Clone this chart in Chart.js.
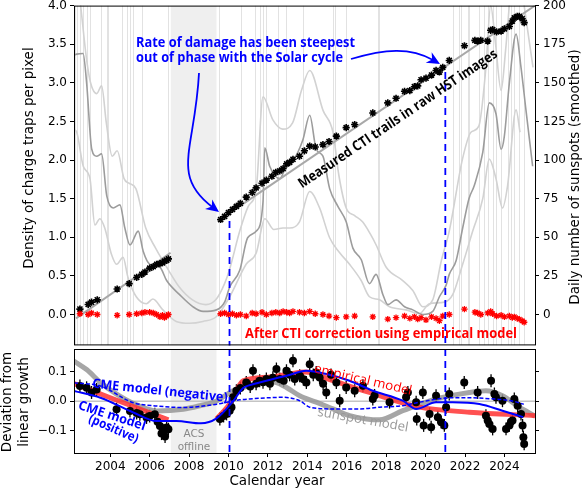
<!DOCTYPE html>
<html>
<head>
<meta charset="utf-8">
<title>CTI growth and the solar cycle</title>
<script src="https://cdn.jsdelivr.net/npm/chart.js@4.4.1/dist/chart.umd.min.js"></script>
<style>
  html, body { margin: 0; padding: 0; background: #fff; }
  #wrap { position: relative; width: 583px; height: 490px; overflow: hidden; }
  #topChart { position: absolute; left: 0; top: 0; }
  #botChart { position: absolute; left: 0; top: 340px; }
</style>
</head>
<body>
<div id="wrap">
  <canvas id="topChart" width="583" height="351"></canvas>
  <canvas id="botChart" width="583" height="150"></canvas>
</div>
<script>
(function () {
  "use strict";

  // ---- values ----
  const X_MIN = 2002.16;
  const X_MAX = 2025.55;
  const yearTicks = [2004, 2006, 2008, 2010, 2012, 2014, 2016, 2018, 2020, 2022, 2024];
  const trapTicks = [0, 0.5, 1, 1.5, 2, 2.5, 3, 3.5, 4];
  const sunTicks = [0, 25, 50, 75, 100, 125, 150, 175, 200];
  const devTicks = [-0.1, 0, 0.1];

  const offlineStart = 2007.07;
  const offlineEnd = 2009.39;
  const dashYears = [2010.05, 2021.0];
  const dashTopVals = [1.21, 3.14];

  const markerYears = [2002.21, 2002.33, 2002.46, 2002.62, 2002.82, 2002.97, 2003.55, 2003.82, 2003.88,
    2004.58, 2004.83, 2005.0, 2005.15, 2005.59, 2006.94, 2009.5, 2010.65, 2011.33, 2011.6, 2011.75,
    2011.92, 2012.51, 2012.93, 2013.78, 2015.3, 2015.38, 2015.97, 2017.58, 2017.63, 2021.37, 2021.71,
    2021.8, 2022.14, 2022.22, 2022.7, 2022.98, 2023.15, 2023.4, 2023.57, 2023.83, 2024.16, 2024.33,
    2024.5, 2024.75, 2025.0];

  const ctiYears = [2002.46, 2002.88, 2003.05, 2003.34, 2004.35, 2004.96, 2005.34, 2005.6, 2005.76, 2006.0,
    2006.18, 2006.35, 2006.52, 2006.65, 2006.75, 2006.86, 2006.95, 2009.6, 2009.8, 2010.0, 2010.2, 2010.4,
    2010.6, 2010.9, 2011.2, 2011.4, 2011.7, 2011.92, 2012.2, 2012.4, 2012.6, 2012.77, 2012.95, 2013.1,
    2013.27, 2013.6, 2013.85, 2014.12, 2014.4, 2014.79, 2015.1, 2015.47, 2015.97, 2016.4, 2017.32, 2018.08,
    2018.5, 2018.93, 2019.2, 2019.43, 2019.6, 2019.77, 2020.02, 2020.3, 2020.53, 2020.7, 2020.87, 2021.2,
    2021.97, 2022.5, 2022.64, 2022.8, 2023.15, 2023.3, 2023.4, 2023.6, 2023.83, 2024.0, 2024.25, 2024.4,
    2024.5, 2024.65, 2024.75, 2024.9, 2025.0];
  const measuredCti = [0.07, 0.13, 0.16, 0.19, 0.33, 0.40, 0.48, 0.52, 0.55, 0.60,
    0.62, 0.65, 0.66, 0.67, 0.69, 0.70, 0.72, 1.23, 1.27, 1.32, 1.36, 1.40,
    1.44, 1.52, 1.58, 1.64, 1.70, 1.74, 1.79, 1.84, 1.86, 1.89, 1.95, 1.97,
    2.01, 2.05, 2.12, 2.18, 2.17, 2.20, 2.24, 2.31, 2.42, 2.46, 2.61, 2.74,
    2.80, 2.89, 2.90, 2.95, 2.96, 3.04, 3.06, 3.10, 3.16, 3.14, 3.20, 3.29,
    3.48, 3.55, 3.54, 3.55, 3.54, 3.68, 3.69, 3.66, 3.67, 3.70, 3.73, 3.80,
    3.84, 3.86, 3.86, 3.83, 3.78];
  const correctedCti = [0.01, 0.0, 0.02, 0.0, -0.01, 0.0, 0.01, 0.02, 0.03, 0.03,
    0.02, 0.0, -0.03, -0.01, -0.04, -0.02, 0.0, 0.01, 0.02, 0.0, 0.01, -0.01,
    0.0, -0.02, 0.02, 0.01, 0.03, 0.0, 0.02, 0.03, 0.02, 0.04, 0.03, 0.02,
    0.04, 0.03, 0.02, 0.04, 0.01, 0.0, -0.02, -0.04, -0.03, -0.02, -0.03, -0.06,
    -0.04, -0.02, -0.05, -0.03, -0.06, -0.04, -0.07, -0.03, -0.05, -0.08, -0.02, 0.0,
    0.07, 0.03, 0.02, 0.0, 0.02, 0.04, 0.01, -0.02, -0.01, -0.03, -0.02, -0.04,
    -0.03, -0.05, -0.06, -0.08, -0.1];

  const fitYearsEarly = [2002.26, 2007.06];
  const fitEarly = [-0.05, 0.80];
  const fitYearsLate = [2009.45, 2025.55];
  const fitLate = [1.21, 4.0];

  const sunYears = [2002.16, 2002.30, 2002.62, 2002.80, 2003.06, 2003.31, 2003.56, 2003.82, 2004.15, 2004.49,
    2004.74, 2005.0, 2005.42, 2005.67, 2006.01, 2006.52, 2006.86, 2007.53, 2008.2, 2008.71, 2009.39, 2009.8,
    2010.06, 2010.57, 2010.97, 2011.41, 2011.75, 2011.84, 2012.09, 2012.6, 2012.9, 2013.3, 2013.77, 2014.12,
    2014.45, 2014.79, 2015.13, 2015.55, 2015.97, 2016.31, 2016.73, 2017.15, 2017.49, 2017.83, 2018.08, 2018.5,
    2018.93, 2019.35, 2019.86, 2020.36, 2020.7, 2021.04, 2021.2, 2021.55, 2021.88, 2022.2, 2022.47, 2022.9,
    2023.23, 2023.57, 2023.83, 2023.99, 2024.25, 2024.59, 2024.84, 2025.09, 2025.43];
  const sunMid = [168, 168.6, 169, 150, 107, 102.5, 104, 77, 69, 71,
    56, 45, 54, 41, 32.5, 30.6, 22, 12.7, 5, 2, 3, 8,
    17.8, 28.6, 49.7, 54, 73, 108, 96, 88, 95, 100, 113, 129,
    107, 102.5, 81.5, 70, 60, 43, 35.6, 20, 26, 13, 6.4, 9.5,
    5, 3, 0, 2, 11.5, 19, 26, 35, 56, 75, 83.5, 105,
    137, 130, 107, 115, 150, 181.5, 160, 132.5, 96];

  const sunUpYears = [2002.16, 2002.45, 2002.8, 2003.0, 2003.31, 2003.56, 2003.8, 2004.1, 2004.35, 2004.7,
    2004.95, 2005.3, 2005.8, 2006.3, 2006.96, 2007.5, 2008.17, 2008.85, 2009.35, 2009.8, 2010.06, 2010.57,
    2011.0, 2011.41, 2011.75, 2012.25, 2012.75, 2013.25, 2013.7, 2014.12, 2014.8, 2015.3, 2015.6, 2015.97,
    2016.4, 2016.8, 2017.2, 2017.49, 2018.0, 2018.84, 2019.35, 2019.86, 2020.36, 2020.8, 2021.2, 2021.87,
    2022.3, 2022.7, 2023.06, 2023.3, 2023.55, 2023.83, 2024.05, 2024.35, 2024.6, 2025.0, 2025.45];
  const sunUp = [230, 205, 165, 150, 143, 148, 124, 102.5, 106, 88,
    85, 81.5, 56, 43, 28.6, 17.8, 9.5, 6.4, 9.5, 20, 29.5, 54,
    70, 82, 141, 126, 120, 124, 145, 158, 132, 118, 90, 69,
    64, 60, 52, 45, 30.6, 22, 15.6, 5, 9.5, 35, 54, 100.6,
    118, 122, 160, 200, 175, 145, 170, 215, 240, 200, 160];

  const sunLoYears = [2002.16, 2002.30, 2002.63, 2002.97, 2003.22, 2003.47, 2003.72, 2004.06, 2004.32, 2004.65,
    2004.9, 2005.32, 2005.83, 2006.16, 2006.67, 2007.35, 2008.02, 2008.7, 2009.39, 2010.06, 2010.9, 2011.41,
    2011.84, 2012.3, 2012.76, 2013.1, 2013.6, 2014.12, 2014.62, 2015.13, 2015.64, 2016.14, 2016.73, 2017.15,
    2017.66, 2018.17, 2019.0, 2019.69, 2020.19, 2020.95, 2021.38, 2021.88, 2022.39, 2022.9, 2023.23, 2023.57,
    2023.9, 2024.16, 2024.59, 2024.79];
  const sunLo = [119.7, 118, 96, 88, 58, 62, 56, 39, 32.5, 37,
    24, 11.5, 7, 10, 3, -4.5, -5.7, -4.5, -1.3, 11.5, 32.7, 40,
    62, 55, 56, 56, 60, 79.6, 69, 49.7, 40, 32.5, 22, 11.5,
    9.5, 5, 3, 0.6, 7, 8, 13, 32.5, 54, 75, 100.6, 88,
    69, 83.5, 132.5, 118];

  const RES_ERR = 0.022;
  const resYears = [2002.46, 2002.8, 2003.05, 2003.31, 2004.32, 2005.0, 2005.34, 2005.5, 2005.84, 2006.0,
    2006.26, 2006.4, 2006.52, 2006.6, 2006.68, 2006.78, 2006.86, 2006.95, 2009.56, 2009.75, 2009.9, 2010.06,
    2010.15, 2010.23, 2010.4, 2010.6, 2010.9, 2011.1, 2011.24, 2011.4, 2011.58, 2011.75, 2011.92, 2012.1,
    2012.25, 2012.43, 2012.6, 2012.8, 2012.94, 2013.1, 2013.27, 2013.36, 2013.61, 2013.8, 2013.95, 2014.12,
    2014.3, 2014.45, 2014.62, 2014.8, 2014.96, 2015.2, 2015.47, 2015.64, 2015.97, 2016.4, 2016.82, 2017.32,
    2017.41, 2018.17, 2019.01, 2019.1, 2019.52, 2019.55, 2019.86, 2019.9, 2020.2, 2020.28, 2020.53, 2020.62,
    2020.79, 2020.95, 2021.04, 2021.2, 2021.96, 2022.64, 2023.06, 2023.15, 2023.23, 2023.32, 2023.4, 2023.49,
    2023.57, 2023.9, 2024.08, 2024.25, 2024.33, 2024.41, 2024.5, 2024.67, 2024.84, 2024.92, 2024.96, 2025.0];
  const resVals = [0.052, 0.046, 0.03, 0.04, -0.027, -0.033, -0.04, -0.044, -0.055, -0.05,
    -0.044, -0.07, -0.084, -0.11, -0.1, -0.12, -0.089, -0.095, -0.06, -0.05, -0.043, -0.032,
    -0.02, 0.0135, 0.036, 0.045, 0.064, 0.05, 0.104, 0.06, 0.07, 0.065, 0.076, 0.06,
    0.08, 0.11, 0.076, 0.07, 0.104, 0.09, 0.138, 0.076, 0.087, 0.075, 0.064, 0.126,
    0.09, 0.098, 0.081, 0.06, 0.03, 0.09, 0.064, 0.002, 0.047, 0.036, 0.053, 0.008,
    0.02, -0.003, 0.0135, 0.03, -0.003, -0.06, 0.03, -0.082, -0.043, -0.088, 0.019, -0.054,
    -0.071, -0.082, -0.02, 0.025, 0.064, 0.03, -0.049, -0.065, -0.077, 0.07, -0.094, 0.025,
    0.0135, 0.002, -0.094, -0.082, -0.07, -0.065, 0.008, -0.015, -0.043, -0.082, -0.122, -0.145];

  const empYears = [2002.16, 2004.0, 2006.95, 2008.0, 2009.39, 2010.06, 2010.74, 2012.0, 2013.0, 2013.9,
    2015.3, 2017.15, 2019.69, 2022.22, 2025.55];
  const empVals = [0.06, 0.012, -0.063, null, -0.06, -0.009, 0.07, 0.082, 0.092, 0.1,
    0.07, 0.03, -0.02, -0.037, -0.049];

  const spotModelYears = [2002.16, 2002.8, 2003.5, 2004.3, 2005.1, 2006.35, 2007.7, 2008.54, 2009.4, 2010.23,
    2011.08, 2011.92, 2012.43, 2012.94, 2013.61, 2014.45, 2015.3, 2016.14, 2016.99, 2017.66, 2018.84, 2020.53,
    2022.22, 2023.06, 2023.9, 2024.75, 2025.55];
  const spotModel = [0.137, 0.108, 0.064, 0.025, -0.005, -0.033, -0.027, -0.015, 0.001, 0.036,
    0.053, 0.068, 0.064, 0.047, 0.019, -0.003, -0.026, -0.049, -0.06, -0.063, -0.032, 0.008,
    0.03, 0.036, 0.019, -0.02, -0.05];

  const cmePosYears = [2002.16, 2003.5, 2005.17, 2006.35, 2007.36, 2008.6, 2009.39, 2010.23, 2010.74, 2011.08,
    2011.92, 2012.94, 2013.95, 2014.96, 2016.14, 2017.32, 2018.84, 2019.52, 2020.53, 2021.37, 2022.73, 2023.9,
    2024.95];
  const cmePos = [0.035, 0.012, -0.038, -0.067, -0.067, -0.075, -0.058, 0.0, 0.045, 0.055,
    0.07, 0.087, 0.104, 0.093, 0.07, 0.036, 0.002, -0.026, -0.003, -0.003, -0.009, -0.032,
    -0.054];

  const cmeNegYears = [2002.16, 2003.5, 2005.17, 2006.35, 2007.7, 2009.39, 2010.57, 2011.08, 2012.77, 2013.61,
    2014.12, 2015.3, 2016.65, 2017.66, 2018.84, 2019.69, 2021.37, 2022.05, 2023.0, 2024.4, 2024.98];
  const cmeNeg = [0.063, 0.052, -0.005, -0.016, -0.021, -0.01, 0.005, 0.008, 0.0135, 0.002,
    -0.02, -0.026, -0.026, -0.02, -0.015, -0.003, 0.012, 0.012, 0.01, 0.001, -0.01];

  // ---- styling ----
  const BLUE = "#0000ff";
  const RED = "#ff0000";
  const FONT = '"DejaVu Sans", sans-serif';
  const NOTE_FONT = "'Open Sans', 'Noto Sans', sans-serif";

  Chart.defaults.font.family = FONT;
  Chart.defaults.font.size = 12;
  Chart.defaults.color = "#000";

  function pts(xs, ys) {
    return xs.map(function (x, i) {
      return { x: x, y: ys[i] };
    });
  }
  function setTicks(list) {
    return function (s) {
      s.ticks = list.map(function (v) {
        return { value: v };
      });
    };
  }
  function fitY(w) {
    return function (s) {
      s.width = w;
      s.paddingTop = 0;
      s.paddingBottom = 0;
    };
  }
  function fitX(h) {
    return function (s) {
      s.height = h;
      s.paddingLeft = 0;
      s.paddingRight = 0;
    };
  }
  function fmt1(v) {
    return v < 0 ? "\u2212" + Math.abs(v).toFixed(1) : v.toFixed(1);
  }
  function tickGrid() {
    return { drawOnChartArea: false, drawTicks: true, tickLength: 4, tickColor: "#000", tickWidth: 1 };
  }
  function curve(data, color, width, axis, order, extra) {
    return Object.assign(
      {
        data: data,
        showLine: true,
        borderColor: color,
        borderWidth: width,
        pointRadius: 0,
        yAxisID: axis,
        order: order,
        cubicInterpolationMode: "monotone",
        spanGaps: false,
      },
      extra || {}
    );
  }

  function note(ctx, n) {
    ctx.save();
    ctx.translate(n.x, n.y);
    if (n.rot) ctx.rotate((n.rot * Math.PI) / 180);
    ctx.font = n.font;
    ctx.fillStyle = n.color;
    ctx.textAlign = n.align || "center";
    ctx.textBaseline = n.baseline || "middle";
    if (n.w) {
      const w = ctx.measureText(n.text).width;
      ctx.scale(n.w / w, 1);
    }
    ctx.fillText(n.text, 0, 0);
    ctx.restore();
  }

  function arrow(ctx, p0, c1, c2, p1) {
    const ang = Math.atan2(p1[1] - c2[1], p1[0] - c2[0]);
    const L = 13;
    const W = 6;
    const cx = Math.cos(ang);
    const sy = Math.sin(ang);
    ctx.save();
    ctx.strokeStyle = BLUE;
    ctx.fillStyle = BLUE;
    ctx.lineWidth = 1.8;
    ctx.beginPath();
    ctx.moveTo(p0[0], p0[1]);
    ctx.bezierCurveTo(c1[0], c1[1], c2[0], c2[1], p1[0] - cx * 8, p1[1] - sy * 8);
    ctx.stroke();
    ctx.beginPath();
    ctx.moveTo(p1[0], p1[1]);
    ctx.lineTo(p1[0] - L * cx + W * sy, p1[1] - L * sy - W * cx);
    ctx.lineTo(p1[0] - 0.7 * L * cx, p1[1] - 0.7 * L * sy);
    ctx.lineTo(p1[0] - L * cx - W * sy, p1[1] - L * sy + W * cx);
    ctx.closePath();
    ctx.fill();
    ctx.restore();
  }

  function shade(ctx, x, a) {
    const x0 = x.getPixelForValue(offlineStart);
    const x1 = x.getPixelForValue(offlineEnd);
    ctx.fillStyle = "#efefef";
    ctx.fillRect(x0, a.top, x1 - x0, a.bottom - a.top);
  }

  function dashes(ctx, chart, tops) {
    const x = chart.scales.x;
    const y = chart.scales.y;
    const a = chart.chartArea;
    ctx.save();
    ctx.strokeStyle = BLUE;
    ctx.lineWidth = 1.8;
    ctx.setLineDash([7, 5]);
    dashYears.forEach(function (yr, i) {
      const px = x.getPixelForValue(yr);
      const top = tops ? y.getPixelForValue(tops[i]) : a.top;
      ctx.beginPath();
      ctx.moveTo(px, top);
      ctx.lineTo(px, a.bottom);
      ctx.stroke();
    });
    ctx.restore();
  }

  function frame(ctx, a) {
    ctx.save();
    ctx.strokeStyle = "#000";
    ctx.lineWidth = 1;
    ctx.strokeRect(a.left + 0.5, a.top + 0.5, a.right - a.left, a.bottom - a.top);
    ctx.restore();
  }

  const topNotes = [
    { text: "Rate of damage has been steepest", x: 136, y: 46.5, w: 219, align: "left", baseline: "alphabetic", color: BLUE, font: "bold 14px " + NOTE_FONT },
    { text: "out of phase with the Solar cycle", x: 136, y: 62, w: 207, align: "left", baseline: "alphabetic", color: BLUE, font: "bold 14px " + NOTE_FONT },
    { text: "Measured CTI trails in raw HST images", x: 398, y: 119, w: 237, rot: -34, color: "#000", font: "bold 14px " + NOTE_FONT },
    { text: "After CTI correction using empirical model", x: 245, y: 338, w: 272, align: "left", baseline: "alphabetic", color: RED, font: "bold 14px " + NOTE_FONT },
    { text: "Density of charge traps per pixel", x: 29, y: 158, rot: -90, color: "#000", font: "13.5px " + FONT },
    { text: "Daily number of sunspots (smoothed)", x: 575, y: 177, rot: -90, color: "#000", font: "13.5px " + FONT },
  ];

  const botNotes = [
    { text: "CME model (negative)", x: 160, y: 51, w: 136, rot: 6, color: BLUE, font: "bold 13px " + NOTE_FONT },
    { text: "CME model", x: 112, y: 76, w: 70, rot: 18, color: BLUE, font: "bold 13px " + NOTE_FONT },
    { text: "(positive)", x: 113.5, y: 89, w: 53, rot: 24, color: BLUE, font: "bold 13px " + NOTE_FONT },
    { text: "empirical model", x: 363, y: 40, w: 100, rot: 13, color: RED, font: "13px " + NOTE_FONT },
    { text: "sunspot model", x: 363, y: 80, w: 92, rot: 10, color: "#999", font: "13px " + NOTE_FONT },
    { text: "ACS", x: 194, y: 94, color: "#888", font: "10.5px " + FONT },
    { text: "offline", x: 194, y: 107, color: "#888", font: "10.5px " + FONT },
    { text: "Deviation from", x: 7, y: 62, rot: -90, color: "#000", font: "13.5px " + FONT },
    { text: "linear growth", x: 24, y: 62, rot: -90, color: "#000", font: "13.5px " + FONT },
    { text: "Calendar year", x: 277, y: 141, color: "#000", font: "13.5px " + FONT },
  ];

  const topDecor = {
    id: "topDecor",
    beforeDatasetsDraw: function (chart) {
      const ctx = chart.ctx;
      const a = chart.chartArea;
      const x = chart.scales.x;
      ctx.save();
      ctx.beginPath();
      ctx.rect(a.left, a.top, a.right - a.left, a.bottom - a.top);
      ctx.clip();
      shade(ctx, x, a);
      ctx.strokeStyle = "#e2e2e2";
      ctx.lineWidth = 1;
      for (const yr of markerYears) {
        const px = Math.round(x.getPixelForValue(yr)) + 0.5;
        ctx.beginPath();
        ctx.moveTo(px, a.top);
        ctx.lineTo(px, a.bottom);
        ctx.stroke();
      }
      ctx.restore();
    },
    afterDatasetsDraw: function (chart) {
      dashes(chart.ctx, chart, dashTopVals);
    },
    afterDraw: function (chart) {
      const ctx = chart.ctx;
      const a = chart.chartArea;
      frame(ctx, { left: a.left, right: a.right, top: a.top, bottom: a.bottom - 1 });
      arrow(ctx, [199, 73], [195, 150], [170, 175], [219, 212]);
      arrow(ctx, [351, 59], [385, 49], [410, 47], [440, 64]);
      topNotes.forEach(function (n) {
        note(ctx, n);
      });
    },
  };

  const botDecor = {
    id: "botDecor",
    beforeDatasetsDraw: function (chart) {
      const ctx = chart.ctx;
      const a = chart.chartArea;
      const x = chart.scales.x;
      const y = chart.scales.y;
      ctx.save();
      ctx.beginPath();
      ctx.rect(a.left, a.top, a.right - a.left, a.bottom - a.top);
      ctx.clip();
      shade(ctx, x, a);
      ctx.strokeStyle = "#c4c4c4";
      ctx.lineWidth = 1.5;
      const y0 = y.getPixelForValue(0);
      ctx.beginPath();
      ctx.moveTo(a.left, y0);
      ctx.lineTo(a.right, y0);
      ctx.stroke();
      ctx.strokeStyle = "#000";
      ctx.lineWidth = 1.3;
      resYears.forEach(function (yr, i) {
        const px = x.getPixelForValue(yr);
        ctx.beginPath();
        ctx.moveTo(px, y.getPixelForValue(resVals[i] - RES_ERR));
        ctx.lineTo(px, y.getPixelForValue(resVals[i] + RES_ERR));
        ctx.stroke();
      });
      ctx.restore();
    },
    afterDatasetsDraw: function (chart) {
      dashes(chart.ctx, chart, null);
    },
    afterDraw: function (chart) {
      const ctx = chart.ctx;
      frame(ctx, chart.chartArea);
      botNotes.forEach(function (n) {
        note(ctx, n);
      });
    },
  };

  const base = {
    responsive: false,
    animation: false,
    devicePixelRatio: 1,
    plugins: { legend: { display: false }, tooltip: { enabled: false } },
  };

  new Chart(document.getElementById("topChart"), {
    type: "scatter",
    data: {
      datasets: [
        { data: pts(ctiYears, correctedCti), pointStyle: "star", pointRadius: 3.2, borderColor: RED, borderWidth: 1.3, yAxisID: "y", order: 1 },
        { data: pts(ctiYears, measuredCti), pointStyle: "star", pointRadius: 3.6, borderColor: "#000", borderWidth: 1.6, yAxisID: "y", order: 2 },
        curve(pts(fitYearsEarly, fitEarly), "#a8a8a8", 2, "y", 3, { cubicInterpolationMode: "default", tension: 0 }),
        curve(pts(fitYearsLate, fitLate), "#a8a8a8", 2, "y", 3, { cubicInterpolationMode: "default", tension: 0 }),
        curve(pts(sunYears, sunMid), "#9c9c9c", 1.6, "y2", 4),
        curve(pts(sunUpYears, sunUp), "#d2d2d2", 1.6, "y2", 5),
        curve(pts(sunLoYears, sunLo), "#d2d2d2", 1.6, "y2", 5),
      ],
    },
    options: Object.assign({}, base, {
      layout: { padding: { top: 4, bottom: 2, left: 0, right: 0 } },
      scales: {
        x: { type: "linear", min: X_MIN, max: X_MAX, bounds: "data", display: false },
        y: {
          type: "linear", position: "left", min: -0.4, max: 4.0, bounds: "data",
          afterBuildTicks: setTicks(trapTicks), afterFit: fitY(74),
          ticks: { callback: fmt1, padding: 3, autoSkip: false },
          grid: tickGrid(), border: { display: false },
        },
        y2: {
          type: "linear", position: "right", min: -20, max: 200, bounds: "data",
          afterBuildTicks: setTicks(sunTicks), afterFit: fitY(48),
          ticks: { callback: function (v) { return String(v); }, padding: 4, autoSkip: false },
          grid: tickGrid(), border: { display: false },
        },
      },
    }),
    plugins: [topDecor],
  });

  new Chart(document.getElementById("botChart"), {
    type: "scatter",
    data: {
      datasets: [
        curve(pts(cmePosYears, cmePos), BLUE, 2, "y", 1),
        curve(pts(cmeNegYears, cmeNeg), BLUE, 1.5, "y", 2, { borderDash: [4, 2] }),
        { data: pts(resYears, resVals), pointStyle: "circle", pointRadius: 4, backgroundColor: "#000", borderColor: "#000", borderWidth: 0, yAxisID: "y", order: 3 },
        curve(pts(empYears, empVals), "rgba(255,50,50,0.85)", 5, "y", 4),
        curve(pts(spotModelYears, spotModel), "rgba(150,150,150,0.85)", 5, "y", 5),
      ],
    },
    options: Object.assign({}, base, {
      layout: { padding: { top: 9, bottom: 0, left: 0, right: 0 } },
      scales: {
        x: {
          type: "linear", position: "bottom", min: X_MIN, max: X_MAX, bounds: "data",
          afterBuildTicks: setTicks(yearTicks), afterFit: fitX(37),
          ticks: { callback: function (v) { return String(v); }, padding: 3, autoSkip: false, maxRotation: 0 },
          grid: tickGrid(), border: { display: false },
        },
        y: {
          type: "linear", position: "left", min: -0.176, max: 0.178, bounds: "data",
          afterBuildTicks: setTicks(devTicks), afterFit: fitY(74),
          ticks: { callback: fmt1, padding: 3, autoSkip: false },
          grid: tickGrid(), border: { display: false },
        },
        y2: {
          type: "linear", position: "right", min: -0.176, max: 0.178, bounds: "data",
          afterBuildTicks: setTicks(devTicks), afterFit: fitY(48),
          ticks: { display: false },
          grid: tickGrid(), border: { display: false },
        },
      },
    }),
    plugins: [botDecor],
  });
})();
</script>
</body>
</html>
